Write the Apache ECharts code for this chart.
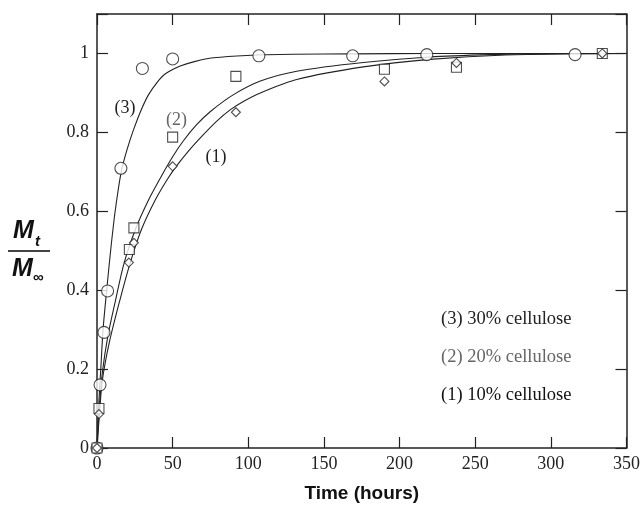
<!DOCTYPE html>
<html>
<head>
<meta charset="utf-8">
<script src="https://cdn.jsdelivr.net/npm/echarts@6/dist/echarts.min.js"></script>
<style>
  html, body { margin: 0; padding: 0; background: #fff; }
  #chart { width: 643px; height: 509px; }
</style>
</head>
<body>
<div id="chart"></div>
<script>
// 测量点 (time in hours, Mt/M∞)
const pts30 = [[0, 0], [2, 0.16], [4.6, 0.293], [7, 0.398], [15.8, 0.709], [30, 0.962], [50, 0.986], [107, 0.994], [169, 0.994], [218, 0.997], [316, 0.997]];
const pts20 = [[0, 0], [1.3, 0.1], [21.4, 0.503], [24.4, 0.558], [50, 0.788], [91.8, 0.942], [190, 0.96], [237.6, 0.965], [334, 1.0]];
const pts10 = [[0, 0], [1.3, 0.086], [21.1, 0.47], [24.4, 0.52], [50, 0.714], [91.8, 0.851], [190, 0.929], [237.6, 0.976], [334, 1.0]];

// 拟合曲线
const fit30 = [[0, 0], [1, 0.1], [2.5, 0.2], [4, 0.3], [6.4, 0.4], [9, 0.5], [12, 0.6], [16, 0.7], [20, 0.758], [24, 0.805], [29, 0.855], [34, 0.895], [40, 0.928], [45, 0.948], [55, 0.968], [65, 0.98], [77, 0.989], [99, 0.995], [130, 0.998], [170, 0.999], [220, 1], [350, 1]];
const fit20 = [[0, 0], [1.5, 0.1], [3.5, 0.19], [7, 0.28], [12, 0.37], [18, 0.47], [26, 0.56], [34, 0.628], [42, 0.685], [50, 0.738], [57, 0.778], [66, 0.82], [75, 0.853], [90, 0.895], [108, 0.93], [132, 0.955], [176, 0.977], [220, 0.991], [260, 0.997], [300, 1], [350, 1]];
const fit10 = [[0, 0], [1.5, 0.08], [3.5, 0.17], [8, 0.265], [15, 0.373], [22, 0.47], [29.5, 0.555], [38, 0.625], [46, 0.678], [52, 0.712], [61, 0.755], [70, 0.793], [79, 0.828], [88, 0.857], [97, 0.879], [108, 0.9], [132, 0.934], [176, 0.966], [220, 0.985], [270, 0.996], [350, 1]];

// 曲线标注
const curveLabels = [
  { name: '(3)', coord: [18.5, 0.86], color: '#222' },
  { name: '(2)', coord: [52.6, 0.83], color: '#666' },
  { name: '(1)', coord: [78.6, 0.736], color: '#222' }
];
const legendTexts = ['(3) 30% cellulose', '(2) 20% cellulose', '(1) 10% cellulose'];
const legendColors = ['#222', '#666', '#111'];

const xTicks = { min: 0, max: 350, interval: 50 };
const yTicks = { min: 0, max: 1.1, interval: 0.2 };

const serif = '"Liberation Serif", "DejaVu Serif", serif';
const sans = '"Liberation Sans", Arial, sans-serif';

const chart = echarts.init(document.getElementById('chart'), null, { renderer: 'canvas' });

const axisLine = { show: true, onZero: false, lineStyle: { color: '#222', width: 1.5 } };
const axisTick = { show: true, inside: true, length: 11, lineStyle: { color: '#222', width: 1.2 } };

const scatter = (data, symbol, size) => ({
  type: 'scatter',
  data,
  symbol,
  symbolSize: size,
  z: 5,
  itemStyle: { color: '#fff', borderColor: '#222', borderWidth: 1.1 }
});

const fitLine = (data) => ({
  type: 'line',
  data,
  smooth: 0.3,
  showSymbol: false,
  z: 3,
  lineStyle: { color: '#222', width: 1.1 }
});

const option = {
  backgroundColor: '#fff',
  animation: false,
  grid: { left: 97, right: 16, top: 14, bottom: 61 },
  xAxis: [
    {
      type: 'value',
      ...xTicks,
      axisLine,
      axisTick,
      splitLine: { show: false },
      axisLabel: { color: '#222', fontFamily: serif, fontSize: 18, margin: 7 },
      name: 'Time (hours)',
      nameLocation: 'middle',
      nameGap: 36,
      nameTextStyle: { color: '#111', fontFamily: sans, fontWeight: 'bold', fontSize: 19 }
    },
    {
      type: 'value',
      position: 'top',
      ...xTicks,
      axisLine,
      axisTick,
      splitLine: { show: false },
      axisLabel: { show: false }
    }
  ],
  yAxis: [
    {
      type: 'value',
      ...yTicks,
      axisLine,
      axisTick,
      splitLine: { show: false },
      axisLabel: {
        color: '#222', fontFamily: serif, fontSize: 18, margin: 8,
        formatter: v => (v > 1.05 ? '' : String(Math.round(v * 10) / 10))
      }
    },
    {
      type: 'value',
      position: 'right',
      ...yTicks,
      axisLine,
      axisTick,
      splitLine: { show: false },
      axisLabel: { show: false }
    }
  ],
  series: [
    fitLine(fit30),
    fitLine(fit20),
    {
      ...fitLine(fit10),
      markPoint: {
        symbol: 'circle',
        symbolSize: 0,
        data: curveLabels.map(l => ({
          coord: l.coord,
          label: { show: true, formatter: l.name, color: l.color, fontFamily: serif, fontSize: 18, position: 'inside' }
        }))
      }
    },
    scatter(pts30, 'circle', 12),
    scatter(pts20, 'rect', 10),
    scatter(pts10, 'diamond', 9)
  ],
  graphic: [
    // y 轴标题 Mt / M∞
    { type: 'text', left: 13, top: 219, style: { text: 'M', fontFamily: sans, fontWeight: 'bold', fontStyle: 'italic', fontSize: 25, fill: '#111' } },
    { type: 'text', left: 35, top: 234, style: { text: 't', fontFamily: sans, fontWeight: 'bold', fontStyle: 'italic', fontSize: 15, fill: '#111' } },
    { type: 'line', shape: { x1: 8, y1: 251, x2: 50, y2: 251 }, style: { stroke: '#444', lineWidth: 2 } },
    { type: 'text', left: 12, top: 257, style: { text: 'M', fontFamily: sans, fontWeight: 'bold', fontStyle: 'italic', fontSize: 25, fill: '#111' } },
    { type: 'text', left: 33, top: 270, style: { text: '∞', fontFamily: sans, fontWeight: 'bold', fontSize: 15, fill: '#111' } },
    // 图例文字
    ...legendTexts.map((t, i) => ({
      type: 'text',
      left: 441,
      top: 310 + i * 38,
      style: { text: t, fontFamily: serif, fontSize: 18.5, fill: legendColors[i] }
    }))
  ]
};

chart.setOption(option);
</script>
</body>
</html>
